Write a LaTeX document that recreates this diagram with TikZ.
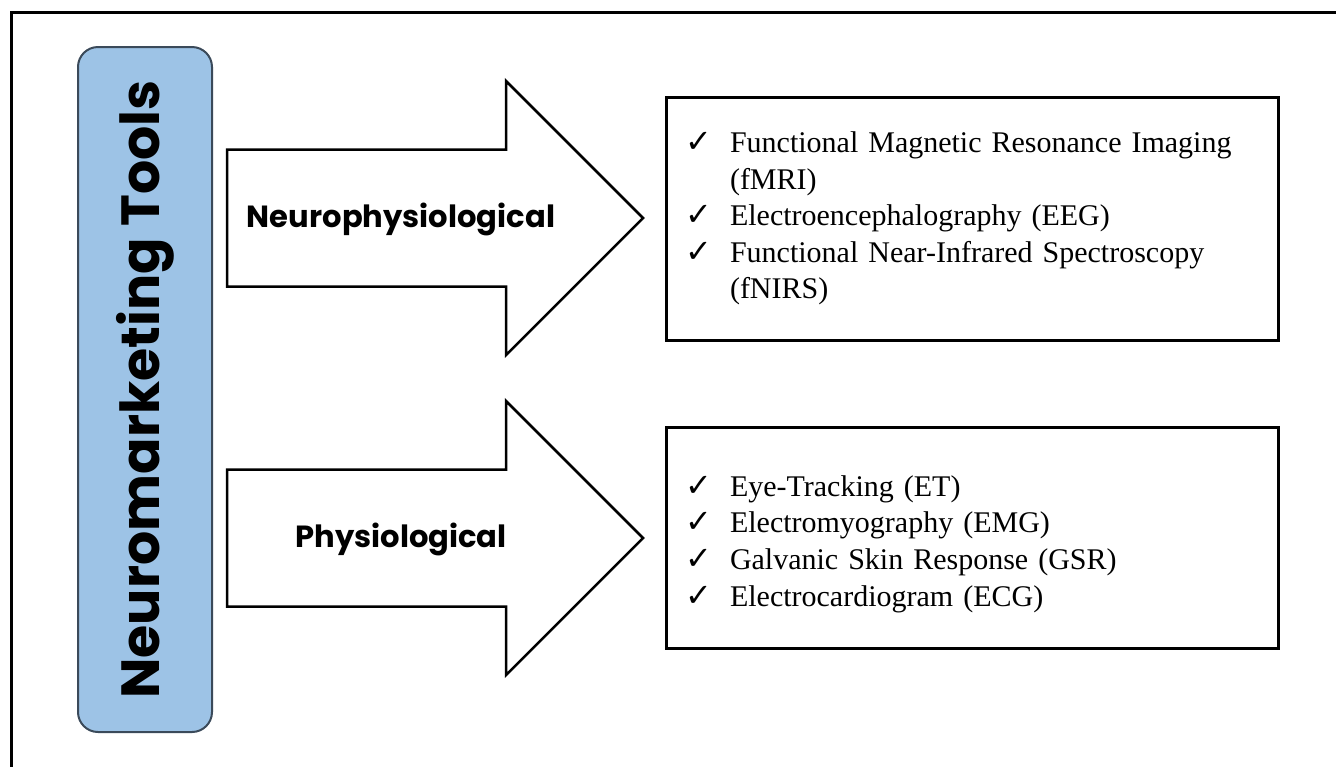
\documentclass[tikz,border=0pt]{standalone}
\usepackage{fontspec}
\usepackage{xcolor}
\usepackage{tikz}
\setmainfont{Liberation Serif}
\newfontfamily\headfont{Poppins}
\newfontfamily\symfont{DejaVu Sans}
\definecolor{toolblue}{HTML}{9DC3E6}
\definecolor{tooledge}{HTML}{3B4A5A}
\newcommand{\chk}{\makebox[22.5pt][l]{\symfont\fontsize{16}{16}\selectfont ✓}}
\newcommand{\gap}{\hspace*{22.5pt}}
\tikzset{
  frameline/.style={line width=1.5pt},
  arrowshape/.style={draw,line width=1.25pt,fill=white,line join=miter},
  arrowlabel/.style={font=\headfont\bfseries\fontsize{15.3}{17}\selectfont,inner sep=0pt,anchor=base},
  listbox/.style={draw,line width=1.5pt,minimum width=306pt,minimum height=#1,
    text width=287pt,inner xsep=9.5pt,align=left,font=\fontsize{15}{18.3}\selectfont},
  toolsbox/.style={draw=tooledge,fill=toolblue,line width=1pt,rounded corners=10pt,
    rotate=90,minimum width=342.5pt,minimum height=67pt,inner sep=0pt,
    font=\headfont\bfseries\fontsize{26.9}{28}\selectfont}
}

\begin{document}
\begin{tikzpicture}[x=0.5pt,y=-0.5pt]
    \useasboundingbox (0,0) rectangle (1336,767);
    % frame
    \draw[frameline] (1336,12) -- (11.5,12) -- (11.5,767);
    % title box
    \node[toolsbox] (tools) at (145,389.5) {Neuromarketing Tools};
    % arrows
    \foreach \yc/\nm/\txt in {218/neuro/Neurophysiological, 538/physio/Physiological} {
      \draw[arrowshape] (227,\yc-68.5) -- (506,\yc-68.5) -- (506,\yc-137) -- (643,\yc)
        -- (506,\yc+137) -- (506,\yc+68.5) -- (227,\yc+68.5) -- cycle;
      \node[arrowlabel] (\nm) at (401,\yc+9) {\txt};
    }
    % lists
    \node[listbox=121.5pt] (neurolist) at (972,218.5) {%
      \chk Functional Magnetic Resonance Imaging\\
      \gap (fMRI)\\
      \chk Electroencephalography (EEG)\\
      \chk Functional Near-Infrared Spectroscopy\\
      \gap (fNIRS)};
    \node[listbox=110.5pt] (physiolist) at (972,537.5) {%
      \rule{0pt}{17pt}\chk Eye-Tracking (ET)\\
      \chk Electromyography (EMG)\\
      \chk Galvanic Skin Response (GSR)\\
      \chk Electrocardiogram (ECG)};
  \end{tikzpicture}
\end{document}
